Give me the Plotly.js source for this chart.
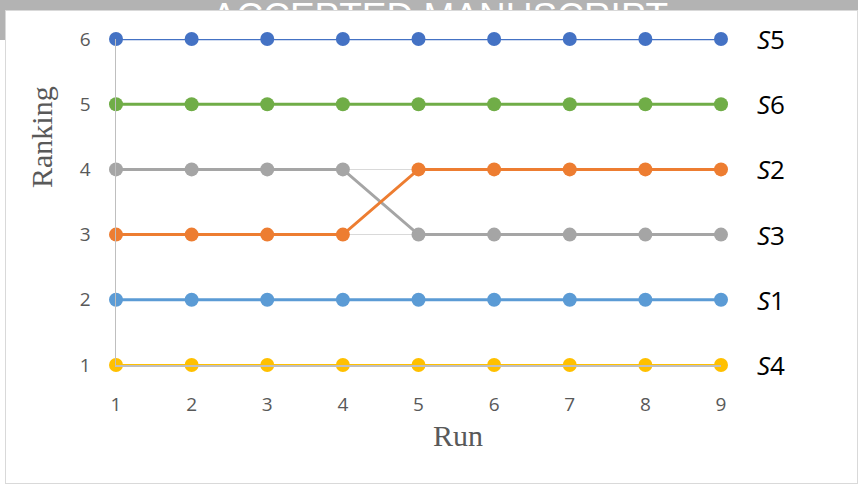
<!DOCTYPE html>
<html><head><meta charset="utf-8">
<script src="https://cdn.plot.ly/plotly-3.0.1.min.js"></script>
<style>
html,body{margin:0;padding:0;width:858px;height:486px;overflow:hidden;background:#fff;}
#band{position:absolute;left:0;top:0;width:858px;height:40px;background:#b3b3b3;}
#wm{position:absolute;left:0;top:-2px;width:880px;text-align:center;color:#fff;font-family:"Liberation Sans",Arial,sans-serif;font-size:37px;line-height:37px;white-space:nowrap;}
#panel{position:absolute;left:5px;top:10px;width:853px;height:474px;background:#fff;border:1px solid #d9d9d9;box-sizing:border-box;}
#plot{position:absolute;left:0;top:0;width:858px;height:486px;}
</style></head>
<body>
<div id="band"></div>
<div id="wm">ACCEPTED MANUSCRIPT</div>
<div id="panel"></div>
<div id="plot"></div>
<script>
const runs = [1,2,3,4,5,6,7,8,9];
const S5 = [6,6,6,6,6,6,6,6,6];
const S6 = [5,5,5,5,5,5,5,5,5];
const S3 = [4,4,4,4,3,3,3,3,3];
const S2 = [3,3,3,3,4,4,4,4,4];
const S1 = [2,2,2,2,2,2,2,2,2];
const S4 = [1,1,1,1,1,1,1,1,1];
const seriesNames = ['S4','S1','S3','S2','S6','S5'];
const seriesData = {S5:S5,S6:S6,S3:S3,S2:S2,S1:S1,S4:S4};
const colors = {S5:'#4472C4',S6:'#70AD47',S2:'#ED7D31',S3:'#A5A5A5',S1:'#5B9BD5',S4:'#FFC000'};
const widths = {S5:2.5,S6:3,S2:3,S3:3,S1:3,S4:2};

const traces = seriesNames.map(n => ({
  x: runs, y: seriesData[n], type:'scatter', mode:'lines+markers', name:n,
  line:{color:colors[n], width:widths[n]},
  marker:{color:colors[n], size:14},
  cliponaxis:false, showlegend:false, hoverinfo:'skip'
}));

const annotations = seriesNames.map(n => ({
  x: runs[runs.length-1], y: seriesData[n][seriesData[n].length-1],
  xref:'x', yref:'y', xanchor:'left', yanchor:'middle', xshift:34,
  text:'<i>S</i>' + n.slice(1), showarrow:false,
  font:{family:'Open Sans, sans-serif', size:26, color:'#000'}
}));
annotations.push({x:-0.122, y:0.70, xref:'paper', yref:'paper', text:'Ranking', textangle:-90,
  showarrow:false, xanchor:'center', yanchor:'middle',
  font:{family:'Liberation Serif, Times New Roman, serif', size:30, color:'#595959'}});
annotations.push({x:0.565, y:-0.215, xref:'paper', yref:'paper', text:'Run',
  showarrow:false, xanchor:'center', yanchor:'middle',
  font:{family:'Liberation Serif, Times New Roman, serif', size:30, color:'#595959'}});

const layout = {
  width:858, height:486,
  margin:{l:116, r:137, t:39, b:121, pad:0},
  paper_bgcolor:'rgba(0,0,0,0)', plot_bgcolor:'rgba(0,0,0,0)',
  xaxis:{range:[1,9], tickvals:runs, showgrid:false, zeroline:false,
    showline:true, linecolor:'#bfbfbf', linewidth:1.5,
    ticks:'outside', ticklen:22, tickcolor:'rgba(0,0,0,0)',
    tickfont:{family:'Open Sans, sans-serif', size:19, color:'#595959'}},
  yaxis:{range:[1,6], tickvals:[1,2,3,4,5,6], showgrid:true, gridcolor:'#d9d9d9', gridwidth:1,
    zeroline:false, showline:true, linecolor:'#bfbfbf', linewidth:1.5,
    ticks:'outside', ticklen:20, tickcolor:'rgba(0,0,0,0)',
    tickfont:{family:'Open Sans, sans-serif', size:19, color:'#595959'}},
  annotations:annotations
};
Plotly.newPlot('plot', traces, layout, {staticPlot:true, displayModeBar:false});
</script>
</body></html>
